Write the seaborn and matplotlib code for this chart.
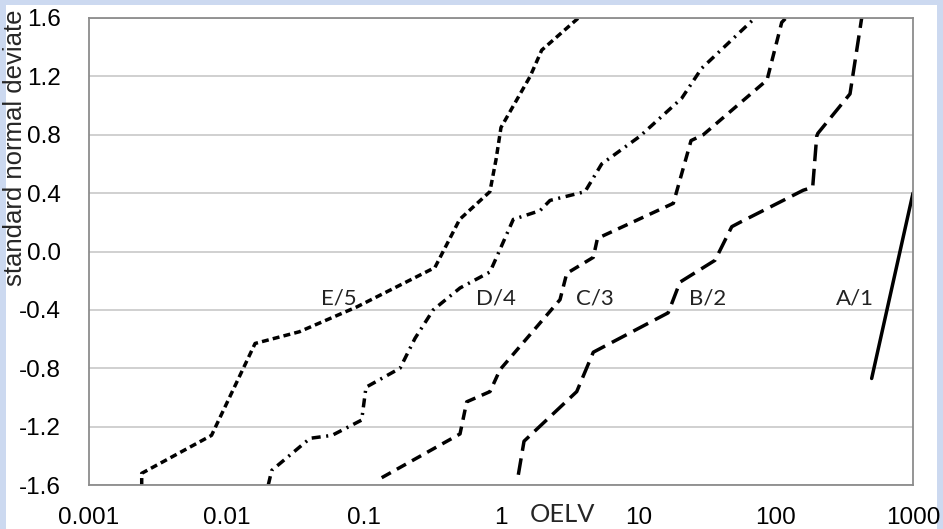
import matplotlib
matplotlib.use("Agg")
import matplotlib.pyplot as plt
import matplotlib.patches as mpatches
import pandas as pd
import seaborn as sns

# --- Data ----------------------------------------------------------------
e5_x = [0.00242, 0.00242, 0.0078, 0.0162, 0.034, 0.089, 0.33, 0.50, 0.83, 0.92, 1.0, 1.63, 1.98, 3.66]
e5_y = [-1.60, -1.52, -1.26, -0.63, -0.55, -0.38, -0.11, 0.22, 0.41, 0.63, 0.85, 1.20, 1.38, 1.60]

d4_x = [0.0202, 0.0214, 0.0407, 0.0588, 0.0967, 0.104, 0.184, 0.2365, 0.321, 0.503, 0.832,
        1.229, 1.923, 2.275, 4.09, 5.41, 10.28, 20.7, 28.9, 70.6]
d4_y = [-1.60, -1.50, -1.28, -1.26, -1.155, -0.93, -0.80, -0.595, -0.40, -0.25, -0.14,
        0.22, 0.28, 0.35, 0.41, 0.60, 0.79, 1.05, 1.255, 1.60]

c3_x = [0.1353, 0.503, 0.563, 0.832, 0.983, 2.69, 3.01, 4.70, 5.04, 17.98, 24.2, 29.7, 86.5, 110.7, 118.9]
c3_y = [-1.55, -1.25, -1.03, -0.96, -0.81, -0.33, -0.15, -0.04, 0.09, 0.33, 0.76, 0.80, 1.175, 1.57, 1.60]

b2_x = [1.337, 1.471, 3.56, 4.70, 16.5, 20.1, 36.2, 47.9, 55.0, 159, 186, 199, 203, 347.8, 423]
b2_y = [-1.53, -1.30, -0.96, -0.69, -0.42, -0.21, -0.06, 0.17, 0.20, 0.42, 0.44, 0.79, 0.81, 1.08, 1.60]

a1_x = [500, 1000]
a1_y = [-0.87, 0.40]

series_names = ["E/5", "D/4", "C/3", "B/2", "A/1"]
label_x = [0.0661, 0.92, 4.84, 32.2, 378]
label_y = -0.32

y_ticks = [-1.6, -1.2, -0.8, -0.4, 0.0, 0.4, 0.8, 1.2, 1.6]
x_ticks = [0.001, 0.01, 0.1, 1, 10, 100, 1000]
x_ticklabels = ["0.001", "0.01", "0.1", "1", "10", "100", "1000"]

# --- Style ----------------------------------------------------------------
sns.set_theme(style="white")
plt.rcParams["font.family"] = ["Liberation Sans", "DejaVu Sans"]
plt.rcParams["lines.scale_dashes"] = False

fig = plt.figure(figsize=(9.43, 5.29), dpi=100)
fig.patch.set_facecolor("#CCD9F0")
fig.patches.append(mpatches.Rectangle((6 / 943, 0), (937 - 6) / 943, (529 - 5) / 529,
                                      transform=fig.transFigure, facecolor="white",
                                      edgecolor="none", zorder=-10))
ax = fig.add_axes([89 / 943, 44 / 529, 824 / 943, 467 / 529])
ax.set_zorder(1)

line_styles = {
    "E/5": (0, (5, 3)),
    "D/4": (0, (6.5, 4, 1.5, 4)),
    "C/3": (0, (7.5, 5)),
    "B/2": (0, (12, 5.5)),
    "A/1": "-",
}
all_x = [e5_x, d4_x, c3_x, b2_x, a1_x]
all_y = [e5_y, d4_y, c3_y, b2_y, a1_y]

for name, xs, ys in zip(series_names, all_x, all_y):
    df = pd.DataFrame({"oelv": xs, "snd": ys})
    sns.lineplot(data=df, x="oelv", y="snd", ax=ax, sort=False, estimator=None,
                 color="black", linewidth=2.5, linestyle=line_styles[name],
                 dash_capstyle="butt")

for name, lx in zip(series_names, label_x):
    ax.text(lx, label_y, name, ha="center", va="center", fontsize=16,
            family=["Lato", "DejaVu Sans"], color="#222222")

ax.set_xscale("log")
ax.set_xlim(0.001, 1000)
ax.set_ylim(-1.6, 1.6)
ax.set_xticks(x_ticks)
ax.set_xticklabels(x_ticklabels)
ax.set_yticks(y_ticks)
ax.set_yticklabels([f"{v:.1f}" for v in y_ticks])
ax.minorticks_off()
ax.tick_params(axis="both", length=0, labelsize=17.5, colors="black")
ax.tick_params(axis="x", pad=16)
ax.tick_params(axis="y", pad=20)

ax.yaxis.grid(True, color="#C4C4C4", linewidth=1.1)
ax.xaxis.grid(False)
ax.set_axisbelow(True)
for sp in ax.spines.values():
    sp.set_color("#8C8C8C")
    sp.set_linewidth(1.3)

ax.set_xlabel("")
ax.set_ylabel("")
fig.text(15 / 943, 1 - 147.5 / 529, "standard normal deviate", rotation=90,
         ha="center", va="center", fontsize=18.5)
fig.text(562 / 943, 1 - 515 / 529, "OELV", ha="center", va="center",
         fontsize=18.3, family=["Lato", "DejaVu Sans"])

fig.savefig("out.png", dpi=100, facecolor=fig.get_facecolor())
